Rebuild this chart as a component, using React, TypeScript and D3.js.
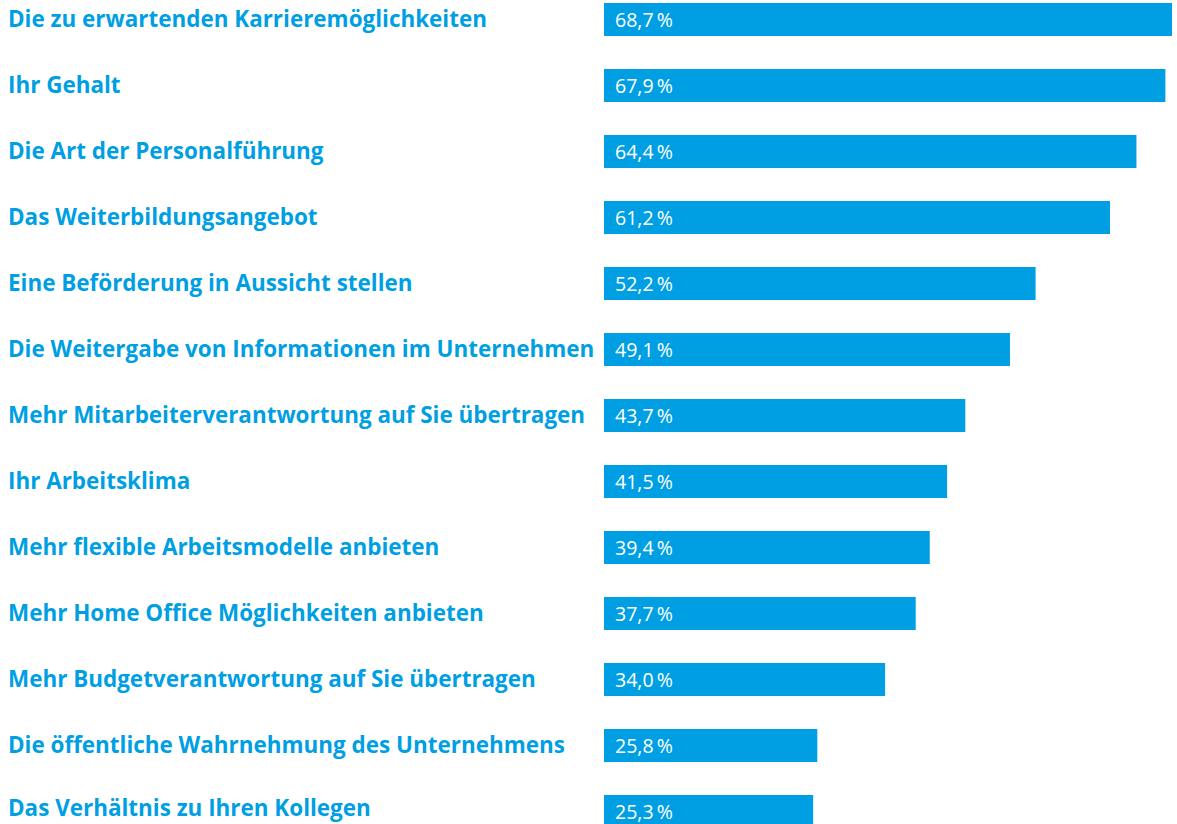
import React from "react";
import * as d3 from "d3";

const categories = [
  "Die zu erwartenden Karrieremöglichkeiten",
  "Ihr Gehalt",
  "Die Art der Personalführung",
  "Das Weiterbildungsangebot",
  "Eine Beförderung in Aussicht stellen",
  "Die Weitergabe von Informationen im Unternehmen",
  "Mehr Mitarbeiterverantwortung auf Sie übertragen",
  "Ihr Arbeitsklima",
  "Mehr flexible Arbeitsmodelle anbieten",
  "Mehr Home Office Möglichkeiten anbieten",
  "Mehr Budgetverantwortung auf Sie übertragen",
  "Die öffentliche Wahrnehmung des Unternehmens",
  "Das Verhältnis zu Ihren Kollegen",
];
const values = [68.7, 67.9, 64.4, 61.2, 52.2, 49.1, 43.7, 41.5, 39.4, 37.7, 34.0, 25.8, 25.3];

const W = 1177;
const H = 824;
const BLUE = "#009FE3";
const LABEL_FONT = "'Open Sans', sans-serif";
const VALUE_FONT = "'Open Sans', sans-serif";

function measure(text: string, font: string): number {
  if (typeof document === "undefined") return 0;
  const c = document.createElement("canvas");
  const ctx = c.getContext("2d");
  if (!ctx) return 0;
  ctx.font = font;
  return ctx.measureText(text).width;
}

const fmt = (v: number) => v.toFixed(1).replace(".", ",") + "\u2009%";

export default function App() {
  const [sizes, setSizes] = React.useState({ label: 19.8, value: 17 });
  React.useLayoutEffect(() => {
    const run = () => {
      const lw = measure(categories[0], `700 20px ${LABEL_FONT}`);
      const vw = measure(fmt(values[0]), `400 17px ${VALUE_FONT}`);
      if (lw > 0 && vw > 0) {
        setSizes({ label: (20 * 479) / lw, value: (17 * 58) / vw });
      }
    };
    run();
    if ((document as any).fonts) (document as any).fonts.ready.then(run);
  }, []);

  const x = d3.scaleLinear().domain([0, 68.7]).range([604, 1172]);
  const step = 66;
  const barH = 33;
  const y = d3
    .scaleLinear()
    .domain([0, categories.length])
    .range([3, 3 + step * categories.length]);
  return (
    <svg
      width={W}
      height={H}
      style={{ position: "absolute", left: 0, top: 0, display: "block" }}
    >
      <rect x={0} y={0} width={W} height={H} fill="#fff" />
      {categories.map((c, i) => {
        const top = y(i);
        const cy = top + barH / 2;
        const v = values[i];
        return (
          <g key={c}>
            <text
              x={8}
              y={Math.min(cy + 7.5, 816)}
              fill={BLUE}
              fontFamily={LABEL_FONT}
              fontWeight={700}
              fontSize={sizes.label}
            >
              {c}
            </text>
            <rect x={x(0)} y={top} width={x(v) - x(0)} height={barH} fill={BLUE} />
            <text
              x={x(0) + 11}
              y={cy + 7.5}
              fill="#fff"
              fontFamily={VALUE_FONT}
              fontWeight={400}
              fontSize={sizes.value}
            >
              {fmt(v)}
            </text>
          </g>
        );
      })}
    </svg>
  );
}
